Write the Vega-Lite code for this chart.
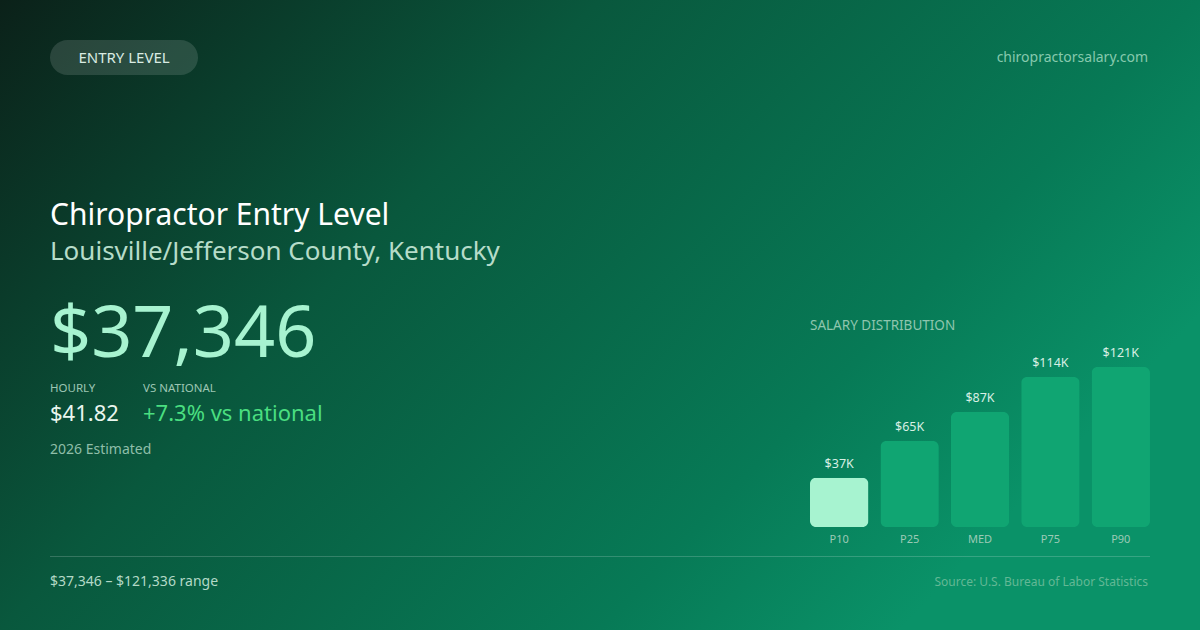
{
  "$schema": "https://vega.github.io/schema/vega-lite/v6.json",
  "width": 1200,
  "height": 630,
  "autosize": {"type": "fit", "contains": "padding"},
  "padding": 0,
  "background": "#06583f",
  "config": {
    "view": {
      "stroke": null,
      "fill": {
        "gradient": "linear",
        "x1": 0, "y1": 0, "x2": 1, "y2": 0.5,
        "stops": [
          {"offset": 0, "color": "#0b2119"},
          {"offset": 0.4, "color": "#09583d"},
          {"offset": 0.8, "color": "#077a56"},
          {"offset": 1, "color": "#0a9268"}
        ]
      }
    },
    "text": {"font": "Noto Sans"}
  },
  "data": {
    "values": [
      {"pct": "P10", "salary": 37346, "label": "$37K"},
      {"pct": "P25", "salary": 65200, "label": "$65K"},
      {"pct": "MED", "salary": 87200, "label": "$87K"},
      {"pct": "P75", "salary": 113800, "label": "$114K"},
      {"pct": "P90", "salary": 121336, "label": "$121K"}
    ]
  },
  "layer": [
    {
      "data": {"values": [{"badge": "ENTRY LEVEL"}]},
      "mark": {"type": "rect", "cornerRadius": 17.5, "fill": "#ffffff", "fillOpacity": 0.13},
      "encoding": {"x": {"value": 50}, "x2": {"value": 198}, "y": {"value": 40}, "y2": {"value": 75}}
    },
    {
      "data": {"values": [{"badge": "ENTRY LEVEL"}]},
      "mark": {"type": "text", "align": "center", "baseline": "middle", "fontSize": 15, "color": "#d9ebe2"},
      "encoding": {"text": {"field": "badge"}, "x": {"value": 124}, "y": {"value": 58}}
    },
    {
      "data": {"values": [{"site": "chiropractorsalary.com"}]},
      "mark": {"type": "text", "align": "right", "baseline": "middle", "fontSize": 14, "color": "#86c9ad"},
      "encoding": {"text": {"field": "site"}, "x": {"value": 1148}, "y": {"value": 58}}
    },
    {
      "data": {"values": [{"t": "Chiropractor Entry Level"}]},
      "mark": {"type": "text", "align": "left", "baseline": "alphabetic", "fontSize": 30, "color": "#ffffff"},
      "encoding": {"text": {"field": "t"}, "x": {"value": 50}, "y": {"value": 225}}
    },
    {
      "data": {"values": [{"t": "Louisville/Jefferson County, Kentucky"}]},
      "mark": {"type": "text", "align": "left", "baseline": "alphabetic", "fontSize": 26, "color": "#b6dcc9"},
      "encoding": {"text": {"field": "t"}, "x": {"value": 50}, "y": {"value": 260}}
    },
    {
      "data": {"values": [{"t": "$37,346"}]},
      "mark": {"type": "text", "align": "left", "baseline": "alphabetic", "fontSize": 72, "color": "#a7f3d0"},
      "encoding": {"text": {"field": "t"}, "x": {"value": 50}, "y": {"value": 357}}
    },
    {
      "data": {"values": [{"t": "HOURLY"}]},
      "mark": {"type": "text", "align": "left", "baseline": "alphabetic", "fontSize": 11.5, "color": "#9cc6b3"},
      "encoding": {"text": {"field": "t"}, "x": {"value": 50}, "y": {"value": 392}}
    },
    {
      "data": {"values": [{"t": "VS NATIONAL"}]},
      "mark": {"type": "text", "align": "left", "baseline": "alphabetic", "fontSize": 11.5, "color": "#9cc6b3"},
      "encoding": {"text": {"field": "t"}, "x": {"value": 143}, "y": {"value": 392}}
    },
    {
      "data": {"values": [{"t": "$41.82"}]},
      "mark": {"type": "text", "align": "left", "baseline": "alphabetic", "fontSize": 22, "color": "#eaf6ef"},
      "encoding": {"text": {"field": "t"}, "x": {"value": 50}, "y": {"value": 421}}
    },
    {
      "data": {"values": [{"t": "+7.3% vs national"}]},
      "mark": {"type": "text", "align": "left", "baseline": "alphabetic", "fontSize": 22, "color": "#4ade80"},
      "encoding": {"text": {"field": "t"}, "x": {"value": 143}, "y": {"value": 421}}
    },
    {
      "data": {"values": [{"t": "2026 Estimated"}]},
      "mark": {"type": "text", "align": "left", "baseline": "alphabetic", "fontSize": 14, "color": "#8fbea9"},
      "encoding": {"text": {"field": "t"}, "x": {"value": 50}, "y": {"value": 454}}
    },
    {
      "data": {"values": [{"t": "SALARY DISTRIBUTION"}]},
      "mark": {"type": "text", "align": "left", "baseline": "alphabetic", "fontSize": 13.5, "color": "#8fc6ae"},
      "encoding": {"text": {"field": "t"}, "x": {"value": 810}, "y": {"value": 330}}
    },
    {
      "mark": {"type": "bar", "cornerRadius": 6},
      "encoding": {
        "x": {"field": "pct", "type": "nominal", "sort": null, "axis": null,
              "scale": {"range": [810, 1150], "paddingInner": 0.17, "paddingOuter": 0}},
        "y": {"field": "salary", "type": "quantitative", "axis": null,
              "scale": {"domain": [0, 121336], "range": [527, 367], "nice": false}},
        "color": {
          "condition": {"test": "datum.pct === 'P10'", "value": "#a7f3d0"},
          "value": "#10a572"
        }
      }
    },
    {
      "mark": {"type": "text", "dy": -10, "baseline": "alphabetic", "fontSize": 12.5, "color": "#d8efe4"},
      "encoding": {
        "x": {"field": "pct", "type": "nominal", "sort": null},
        "y": {"field": "salary", "type": "quantitative"},
        "text": {"field": "label"}
      }
    },
    {
      "mark": {"type": "text", "dy": 16, "baseline": "alphabetic", "fontSize": 11, "color": "#9ccab6"},
      "encoding": {
        "x": {"field": "pct", "type": "nominal", "sort": null},
        "y": {"datum": 0, "type": "quantitative"},
        "text": {"field": "pct"}
      }
    },
    {
      "data": {"values": [{"t": "divider"}]},
      "mark": {"type": "rule", "color": "#ffffff", "strokeOpacity": 0.18, "strokeWidth": 1},
      "encoding": {"x": {"value": 50}, "x2": {"value": 1150}, "y": {"value": 556.5}}
    },
    {
      "data": {"values": [{"t": "$37,346 – $121,336 range"}]},
      "mark": {"type": "text", "align": "left", "baseline": "alphabetic", "fontSize": 14, "color": "#b3d9c7"},
      "encoding": {"text": {"field": "t"}, "x": {"value": 50}, "y": {"value": 586}}
    },
    {
      "data": {"values": [{"t": "Source: U.S. Bureau of Labor Statistics"}]},
      "mark": {"type": "text", "align": "right", "baseline": "alphabetic", "fontSize": 12, "color": "#63b895"},
      "encoding": {"text": {"field": "t"}, "x": {"value": 1148}, "y": {"value": 586}}
    }
  ]
}
